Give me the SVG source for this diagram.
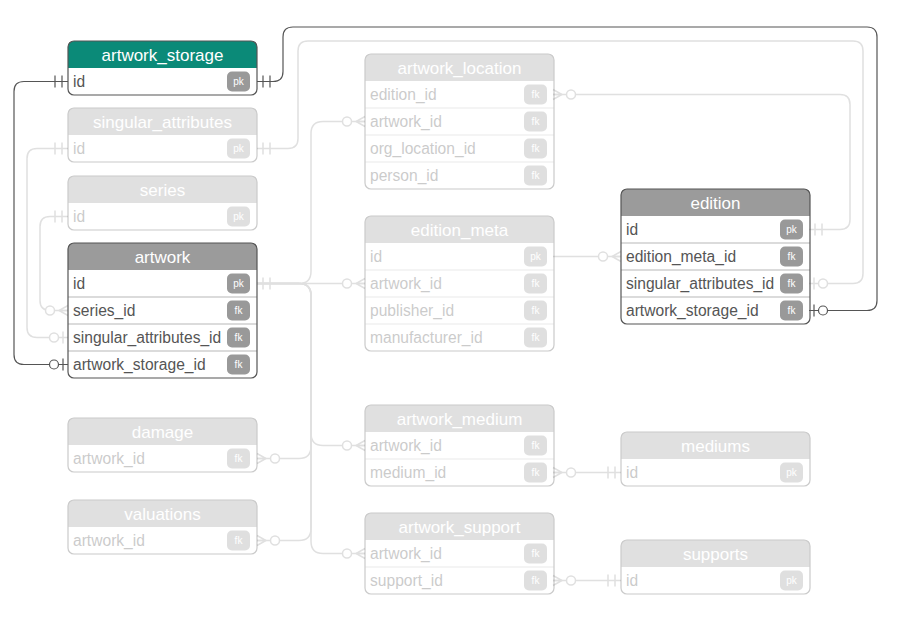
<svg xmlns="http://www.w3.org/2000/svg" xmlns:xlink="http://www.w3.org/1999/xlink" width="900" height="619" viewBox="0 0 900 619">
<style>
.frame{fill:none;stroke:#555;stroke-width:1.2}
.sep{stroke:#cfcfcf;stroke-width:1.5}
.hd{fill:#9b9b9b}
.hd-teal{fill:#0b8a78}
.title{font-family:"Liberation Sans",Arial,sans-serif;font-size:17px;fill:#fff;text-anchor:middle}
.col{font-family:"Liberation Sans",Arial,sans-serif;font-size:15.6px;fill:#555}
.badge{fill:#999}
.btxt{font-family:"Liberation Sans",Arial,sans-serif;font-size:10px;fill:#fff;text-anchor:middle}
.faded{opacity:0.3}
.dark{fill:none;stroke:#555;stroke-width:1.2}
.light{fill:none;stroke:#e0e0e0;stroke-width:1.5}
</style>
<defs>
<path id="hdr" d="M0,27 V6 Q0,0 6,0 H183 Q189,0 189,6 V27 Z"/>
<g id="m-one"><path fill="none" d="M6,-6 V6 M13,-6 V6"/></g>
<g id="m-zeroOne"><path fill="none" d="M5,-6 V6"/><circle cx="14" cy="0" r="4.5" fill="#fff"/></g>
<g id="m-zeroMany"><path fill="none" d="M0,-5 L9,0 L0,5 M0,0 H9"/><circle cx="18" cy="0" r="4.5" fill="#fff"/></g>
</defs>
<rect width="900" height="619" fill="#fff"/>

<g id="connectors">
  <!-- faded connectors -->
  <path class="light" d="M257,148.5 H288 Q298,148.5 298,138.5 V51 Q298,41 308,41 H853 Q863,41 863,51 V273.5 Q863,283.5 853,283.5 H809"/>
  <path class="light" d="M553,94.5 H840 Q850,94.5 850,104.5 V219.5 Q850,229.5 840,229.5 H809"/>
  <path class="light" d="M68,148.5 H37 Q27,148.5 27,158.5 V327.5 Q27,337.5 37,337.5 H68"/>
  <path class="light" d="M68,216.5 H50 Q40,216.5 40,226.5 V300.5 Q40,310.5 50,310.5 H68"/>
  <path class="light" d="M257,283.5 H299 Q311,283.5 311,271.5 V133.5 Q311,121.5 323,121.5 H365"/>
  <path class="light" d="M257,283.5 H365"/>
  <path class="light" d="M257,283.5 H299 Q311,283.5 311,295.5 V433.5 Q311,445.5 323,445.5 H365"/>
  <path class="light" d="M257,283.5 H299 Q311,283.5 311,295.5 V541.5 Q311,553.5 323,553.5 H365"/>
  <path class="light" d="M257,283.5 H299 Q311,283.5 311,295.5 V446.5 Q311,458.5 299,458.5 H257"/>
  <path class="light" d="M257,283.5 H299 Q311,283.5 311,295.5 V528.5 Q311,540.5 299,540.5 H257"/>
  <path class="light" d="M553,256.5 H621"/>
  <path class="light" d="M553,472.5 H621"/>
  <path class="light" d="M553,580.5 H621"/>
  <use xlink:href="#m-one" class="light" transform="translate(257,148.5)"/>
  <use xlink:href="#m-zeroOne" class="light" transform="translate(809,283.5)"/>
  <use xlink:href="#m-zeroMany" class="light" transform="translate(553,94.5)"/>
  <use xlink:href="#m-one" class="light" transform="translate(809,229.5)"/>
  <use xlink:href="#m-one" class="light" transform="translate(68,148.5) scale(-1,1)"/>
  <use xlink:href="#m-zeroOne" class="light" transform="translate(68,337.5) scale(-1,1)"/>
  <use xlink:href="#m-one" class="light" transform="translate(68,216.5) scale(-1,1)"/>
  <use xlink:href="#m-zeroMany" class="light" transform="translate(68,310.5) scale(-1,1)"/>
  <use xlink:href="#m-one" class="light" transform="translate(257,283.5)"/>
  <use xlink:href="#m-zeroMany" class="light" transform="translate(365,121.5) scale(-1,1)"/>
  <use xlink:href="#m-zeroMany" class="light" transform="translate(365,283.5) scale(-1,1)"/>
  <use xlink:href="#m-zeroMany" class="light" transform="translate(365,445.5) scale(-1,1)"/>
  <use xlink:href="#m-zeroMany" class="light" transform="translate(365,553.5) scale(-1,1)"/>
  <use xlink:href="#m-zeroMany" class="light" transform="translate(257,458.5)"/>
  <use xlink:href="#m-zeroMany" class="light" transform="translate(257,540.5)"/>
  <use xlink:href="#m-zeroMany" class="light" transform="translate(621,256.5) scale(-1,1)"/>
  <use xlink:href="#m-zeroMany" class="light" transform="translate(553,472.5)"/>
  <use xlink:href="#m-one" class="light" transform="translate(621,472.5) scale(-1,1)"/>
  <use xlink:href="#m-zeroMany" class="light" transform="translate(553,580.5)"/>
  <use xlink:href="#m-one" class="light" transform="translate(621,580.5) scale(-1,1)"/>
  <!-- highlighted connectors -->
  <path class="dark" d="M68,81.5 H24 Q14,81.5 14,91.5 V354.5 Q14,364.5 24,364.5 H68"/>
  <path class="dark" d="M257,81.5 H273 Q283,81.5 283,71.5 V37 Q283,27 293,27 H867 Q877,27 877,37 V300.5 Q877,310.5 867,310.5 H809"/>
  <use xlink:href="#m-one" class="dark" transform="translate(68,81.5) scale(-1,1)"/>
  <use xlink:href="#m-zeroOne" class="dark" transform="translate(68,364.5) scale(-1,1)"/>
  <use xlink:href="#m-one" class="dark" transform="translate(257,81.5)"/>
  <use xlink:href="#m-zeroOne" class="dark" transform="translate(809,310.5)"/>
</g>

<g id="artwork_storage" transform="translate(68,41)">
  <use xlink:href="#hdr" class="hd-teal"/>
  <rect class="frame" x="0" y="0" width="189" height="54" rx="6"/>
  <text class="title" x="94.5" y="19.5">artwork_storage</text>
  <text class="col" x="5" y="46">id</text>
  <rect class="badge" x="159" y="30.5" width="23" height="20" rx="5"/><text class="btxt" x="170.5" y="44">pk</text>
</g>

<g id="singular_attributes" class="faded" transform="translate(68,108)">
  <use xlink:href="#hdr" class="hd"/>
  <rect class="frame" x="0" y="0" width="189" height="54" rx="6"/>
  <text class="title" x="94.5" y="19.5">singular_attributes</text>
  <text class="col" x="5" y="46">id</text>
  <rect class="badge" x="159" y="30.5" width="23" height="20" rx="5"/><text class="btxt" x="170.5" y="44">pk</text>
</g>

<g id="series" class="faded" transform="translate(68,176)">
  <use xlink:href="#hdr" class="hd"/>
  <rect class="frame" x="0" y="0" width="189" height="54" rx="6"/>
  <text class="title" x="94.5" y="19.5">series</text>
  <text class="col" x="5" y="46">id</text>
  <rect class="badge" x="159" y="30.5" width="23" height="20" rx="5"/><text class="btxt" x="170.5" y="44">pk</text>
</g>

<g id="artwork" transform="translate(68,243)">
  <use xlink:href="#hdr" class="hd"/>
  <line class="sep" x1="0" y1="54" x2="189" y2="54"/>
  <line class="sep" x1="0" y1="81" x2="189" y2="81"/>
  <line class="sep" x1="0" y1="108" x2="189" y2="108"/>
  <rect class="frame" x="0" y="0" width="189" height="135" rx="6"/>
  <text class="title" x="94.5" y="19.5">artwork</text>
  <text class="col" x="5" y="46">id</text>
  <rect class="badge" x="159" y="30.5" width="23" height="20" rx="5"/><text class="btxt" x="170.5" y="44">pk</text>
  <text class="col" x="5" y="73">series_id</text>
  <rect class="badge" x="159" y="57.5" width="23" height="20" rx="5"/><text class="btxt" x="170.5" y="71">fk</text>
  <text class="col" x="5" y="100">singular_attributes_id</text>
  <rect class="badge" x="159" y="84.5" width="23" height="20" rx="5"/><text class="btxt" x="170.5" y="98">fk</text>
  <text class="col" x="5" y="127">artwork_storage_id</text>
  <rect class="badge" x="159" y="111.5" width="23" height="20" rx="5"/><text class="btxt" x="170.5" y="125">fk</text>
</g>

<g id="damage" class="faded" transform="translate(68,418)">
  <use xlink:href="#hdr" class="hd"/>
  <rect class="frame" x="0" y="0" width="189" height="54" rx="6"/>
  <text class="title" x="94.5" y="19.5">damage</text>
  <text class="col" x="5" y="46">artwork_id</text>
  <rect class="badge" x="159" y="30.5" width="23" height="20" rx="5"/><text class="btxt" x="170.5" y="44">fk</text>
</g>

<g id="valuations" class="faded" transform="translate(68,500)">
  <use xlink:href="#hdr" class="hd"/>
  <rect class="frame" x="0" y="0" width="189" height="54" rx="6"/>
  <text class="title" x="94.5" y="19.5">valuations</text>
  <text class="col" x="5" y="46">artwork_id</text>
  <rect class="badge" x="159" y="30.5" width="23" height="20" rx="5"/><text class="btxt" x="170.5" y="44">fk</text>
</g>

<g id="artwork_location" class="faded" transform="translate(365,54)">
  <use xlink:href="#hdr" class="hd"/>
  <line class="sep" x1="0" y1="54" x2="189" y2="54"/>
  <line class="sep" x1="0" y1="81" x2="189" y2="81"/>
  <line class="sep" x1="0" y1="108" x2="189" y2="108"/>
  <rect class="frame" x="0" y="0" width="189" height="135" rx="6"/>
  <text class="title" x="94.5" y="19.5">artwork_location</text>
  <text class="col" x="5" y="46">edition_id</text>
  <rect class="badge" x="159" y="30.5" width="23" height="20" rx="5"/><text class="btxt" x="170.5" y="44">fk</text>
  <text class="col" x="5" y="73">artwork_id</text>
  <rect class="badge" x="159" y="57.5" width="23" height="20" rx="5"/><text class="btxt" x="170.5" y="71">fk</text>
  <text class="col" x="5" y="100">org_location_id</text>
  <rect class="badge" x="159" y="84.5" width="23" height="20" rx="5"/><text class="btxt" x="170.5" y="98">fk</text>
  <text class="col" x="5" y="127">person_id</text>
  <rect class="badge" x="159" y="111.5" width="23" height="20" rx="5"/><text class="btxt" x="170.5" y="125">fk</text>
</g>

<g id="edition_meta" class="faded" transform="translate(365,216)">
  <use xlink:href="#hdr" class="hd"/>
  <line class="sep" x1="0" y1="54" x2="189" y2="54"/>
  <line class="sep" x1="0" y1="81" x2="189" y2="81"/>
  <line class="sep" x1="0" y1="108" x2="189" y2="108"/>
  <rect class="frame" x="0" y="0" width="189" height="135" rx="6"/>
  <text class="title" x="94.5" y="19.5">edition_meta</text>
  <text class="col" x="5" y="46">id</text>
  <rect class="badge" x="159" y="30.5" width="23" height="20" rx="5"/><text class="btxt" x="170.5" y="44">pk</text>
  <text class="col" x="5" y="73">artwork_id</text>
  <rect class="badge" x="159" y="57.5" width="23" height="20" rx="5"/><text class="btxt" x="170.5" y="71">fk</text>
  <text class="col" x="5" y="100">publisher_id</text>
  <rect class="badge" x="159" y="84.5" width="23" height="20" rx="5"/><text class="btxt" x="170.5" y="98">fk</text>
  <text class="col" x="5" y="127">manufacturer_id</text>
  <rect class="badge" x="159" y="111.5" width="23" height="20" rx="5"/><text class="btxt" x="170.5" y="125">fk</text>
</g>

<g id="artwork_medium" class="faded" transform="translate(365,405)">
  <use xlink:href="#hdr" class="hd"/>
  <line class="sep" x1="0" y1="54" x2="189" y2="54"/>
  <rect class="frame" x="0" y="0" width="189" height="81" rx="6"/>
  <text class="title" x="94.5" y="19.5">artwork_medium</text>
  <text class="col" x="5" y="46">artwork_id</text>
  <rect class="badge" x="159" y="30.5" width="23" height="20" rx="5"/><text class="btxt" x="170.5" y="44">fk</text>
  <text class="col" x="5" y="73">medium_id</text>
  <rect class="badge" x="159" y="57.5" width="23" height="20" rx="5"/><text class="btxt" x="170.5" y="71">fk</text>
</g>

<g id="artwork_support" class="faded" transform="translate(365,513)">
  <use xlink:href="#hdr" class="hd"/>
  <line class="sep" x1="0" y1="54" x2="189" y2="54"/>
  <rect class="frame" x="0" y="0" width="189" height="81" rx="6"/>
  <text class="title" x="94.5" y="19.5">artwork_support</text>
  <text class="col" x="5" y="46">artwork_id</text>
  <rect class="badge" x="159" y="30.5" width="23" height="20" rx="5"/><text class="btxt" x="170.5" y="44">fk</text>
  <text class="col" x="5" y="73">support_id</text>
  <rect class="badge" x="159" y="57.5" width="23" height="20" rx="5"/><text class="btxt" x="170.5" y="71">fk</text>
</g>

<g id="edition" transform="translate(621,189)">
  <use xlink:href="#hdr" class="hd"/>
  <line class="sep" x1="0" y1="54" x2="189" y2="54"/>
  <line class="sep" x1="0" y1="81" x2="189" y2="81"/>
  <line class="sep" x1="0" y1="108" x2="189" y2="108"/>
  <rect class="frame" x="0" y="0" width="189" height="135" rx="6"/>
  <text class="title" x="94.5" y="19.5">edition</text>
  <text class="col" x="5" y="46">id</text>
  <rect class="badge" x="159" y="30.5" width="23" height="20" rx="5"/><text class="btxt" x="170.5" y="44">pk</text>
  <text class="col" x="5" y="73">edition_meta_id</text>
  <rect class="badge" x="159" y="57.5" width="23" height="20" rx="5"/><text class="btxt" x="170.5" y="71">fk</text>
  <text class="col" x="5" y="100">singular_attributes_id</text>
  <rect class="badge" x="159" y="84.5" width="23" height="20" rx="5"/><text class="btxt" x="170.5" y="98">fk</text>
  <text class="col" x="5" y="127">artwork_storage_id</text>
  <rect class="badge" x="159" y="111.5" width="23" height="20" rx="5"/><text class="btxt" x="170.5" y="125">fk</text>
</g>

<g id="mediums" class="faded" transform="translate(621,432)">
  <use xlink:href="#hdr" class="hd"/>
  <rect class="frame" x="0" y="0" width="189" height="54" rx="6"/>
  <text class="title" x="94.5" y="19.5">mediums</text>
  <text class="col" x="5" y="46">id</text>
  <rect class="badge" x="159" y="30.5" width="23" height="20" rx="5"/><text class="btxt" x="170.5" y="44">pk</text>
</g>

<g id="supports" class="faded" transform="translate(621,540)">
  <use xlink:href="#hdr" class="hd"/>
  <rect class="frame" x="0" y="0" width="189" height="54" rx="6"/>
  <text class="title" x="94.5" y="19.5">supports</text>
  <text class="col" x="5" y="46">id</text>
  <rect class="badge" x="159" y="30.5" width="23" height="20" rx="5"/><text class="btxt" x="170.5" y="44">pk</text>
</g>
</svg>
